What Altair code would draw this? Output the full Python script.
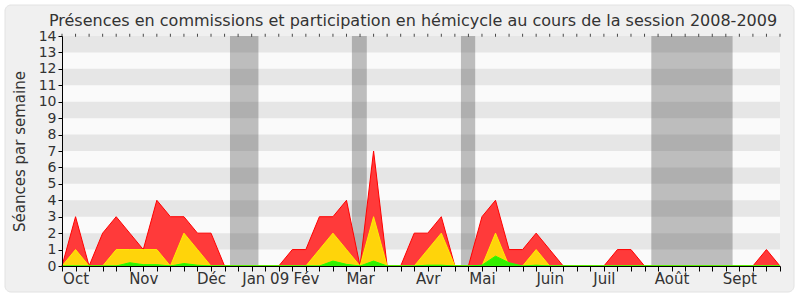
import altair as alt
import pandas as pd

# Weekly values, session 2008-2009 (week index 0..53)
weeks = list(range(54))
total = [0, 3, 0, 2, 3, 2, 1, 4, 3, 3, 2, 2, 0, 0, 0, 0, 0, 1, 1, 3,
         3, 4, 0, 7, 0, 0, 2, 2, 3, 0, 0, 3, 4, 1, 1, 2, 1, 0, 0, 0,
         0, 1, 1, 0, 0, 0, 0, 0, 0, 0, 0, 0, 1, 0]
middle = [0, 1, 0, 0, 1, 1, 1, 1, 0, 2, 1, 0, 0, 0, 0, 0, 0, 0, 0, 1,
          2, 1, 0, 3, 0, 0, 0, 1, 2, 0, 0, 0, 2, 0, 0, 1, 0, 0, 0, 0,
          0, 0, 0, 0, 0, 0, 0, 0, 0, 0, 0, 0, 0, 0]
small = [0, 0, 0, 0, 0, 0.2, 0.08, 0.08, 0, 0.15, 0.05, 0, 0, 0, 0, 0, 0, 0, 0, 0,
         0.3, 0.1, 0, 0.3, 0, 0, 0, 0.05, 0.05, 0, 0, 0.05, 0.6, 0.2, 0, 0.05, 0, 0, 0, 0,
         0, 0, 0, 0, 0, 0, 0, 0, 0, 0, 0, 0, 0, 0]

month_names = ["Oct", "Nov", "Déc", "Jan 09", "Fév", "Mar", "Avr", "Mai",
               "Juin", "Juil", "Août", "Sept"]
month_pos = [1, 6, 11, 15, 18, 22, 27, 31, 36, 40, 45, 50]

vac_start = [12.4, 21.4, 29.45, 43.5]
vac_end = [14.5, 22.5, 30.5, 49.5]

stripe_lo = [1, 3, 5, 7, 9, 11, 13]
stripe_hi = [2, 4, 6, 8, 10, 12, 14]

y_ticks = list(range(15))

W, H = 718, 230
XMAX = weeks[-1]

df = pd.DataFrame({"w": weeks, "total": total, "middle": middle, "small": small})
vac = pd.DataFrame({"a": vac_start, "b": vac_end, "lo": 0, "hi": 14})
stripes = pd.DataFrame({"lo": stripe_lo, "hi": stripe_hi, "x0": 0, "x1": XMAX})

labels_arr = [""] * len(weeks)
for n, p in zip(month_names, month_pos):
    labels_arr[p] = n
label_expr = "[" + ",".join("'" + s + "'" for s in labels_arr) + "][datum.value]"

xscale = alt.Scale(domain=[0, XMAX], nice=False, zero=False)
yscale = alt.Scale(domain=[0, 14], nice=False)

x_axis = alt.Axis(values=weeks, labelExpr=label_expr, title=None, grid=False,
                  tickSize=5, tickColor="#000", domainColor="#000",
                  labelFontSize=15, labelColor="#333", labelPadding=0,
                  labelFont="DejaVu Sans", labelOverlap=False, labelFlush=False,
                  zindex=2)
y_axis = alt.Axis(values=y_ticks, title="Séances par semaine", grid=False,
                  tickSize=4, tickColor="#000", domainColor="#000",
                  labelFontSize=14, labelColor="#333", labelPadding=2,
                  labelOverlap=False, labelFlush=False,
                  labelFont="DejaVu Sans", titleFont="DejaVu Sans",
                  titleFontSize=15, titleFontWeight="normal", titleColor="#333",
                  titlePadding=11, zindex=2)


def X(f):
    return alt.X(f, type="quantitative", scale=xscale, axis=x_axis)


def Y(f):
    return alt.Y(f, type="quantitative", scale=yscale, axis=y_axis)


panel = alt.Chart(pd.DataFrame({"k": [0]})).mark_rect(
    fill="#f0f0f0", stroke="#e2e2e2", strokeWidth=1, cornerRadius=6
).encode(x=alt.value(-57), x2=alt.value(732), y=alt.value(-31), y2=alt.value(256))

plotbg = alt.Chart(pd.DataFrame({"x0": [0], "x1": [XMAX], "lo": [0], "hi": [14]})).mark_rect(
    fill="#fafafa").encode(x=X("x0"), x2="x1", y=Y("lo"), y2="hi")

stripe = alt.Chart(stripes).mark_rect(fill="#e6e6e6").encode(
    x=X("x0"), x2="x1", y=Y("lo"), y2="hi")

vacation = alt.Chart(vac).mark_rect(fill="#323232", opacity=0.3).encode(
    x=X("a"), x2="b", y=Y("lo"), y2="hi")

base = alt.Chart(df)
red = base.mark_area(fill="#ff3a3a", stroke="#ff0000", strokeWidth=1, interpolate="linear").encode(
    x=X("w"), y=Y("total"))
yellow = base.mark_area(fill="#ffd40a", stroke="#ffee00", strokeWidth=1, interpolate="linear").encode(
    x=X("w"), y=Y("middle"))
green = base.mark_area(fill="#33ee00", stroke="#22ff00", strokeWidth=1, interpolate="linear").encode(
    x=X("w"), y=Y("small"))

topticks = base.mark_tick(orient="vertical", color="#000", size=3, thickness=1).encode(
    x=X("w"), y=alt.datum(14.05, scale=yscale, axis=y_axis))

chart = alt.layer(panel, plotbg, stripe, vacation, red, yellow, green, topticks).properties(
    width=W, height=H,
    title=alt.TitleParams(
        "Présences en commissions et participation en hémicycle au cours de la session 2008-2009",
        font="DejaVu Sans", fontSize=16, fontWeight="normal", color="#333",
        anchor="middle", frame="group", dx=-8, offset=-24, zindex=2),
    padding={"left": 62, "top": 36, "right": 20, "bottom": 34},
    autosize=alt.AutoSizeParams(type="none"),
).configure_view(strokeWidth=0).configure(background="#ffffff")

chart.save("out.html", embed_options={"renderer": "svg", "actions": False})
